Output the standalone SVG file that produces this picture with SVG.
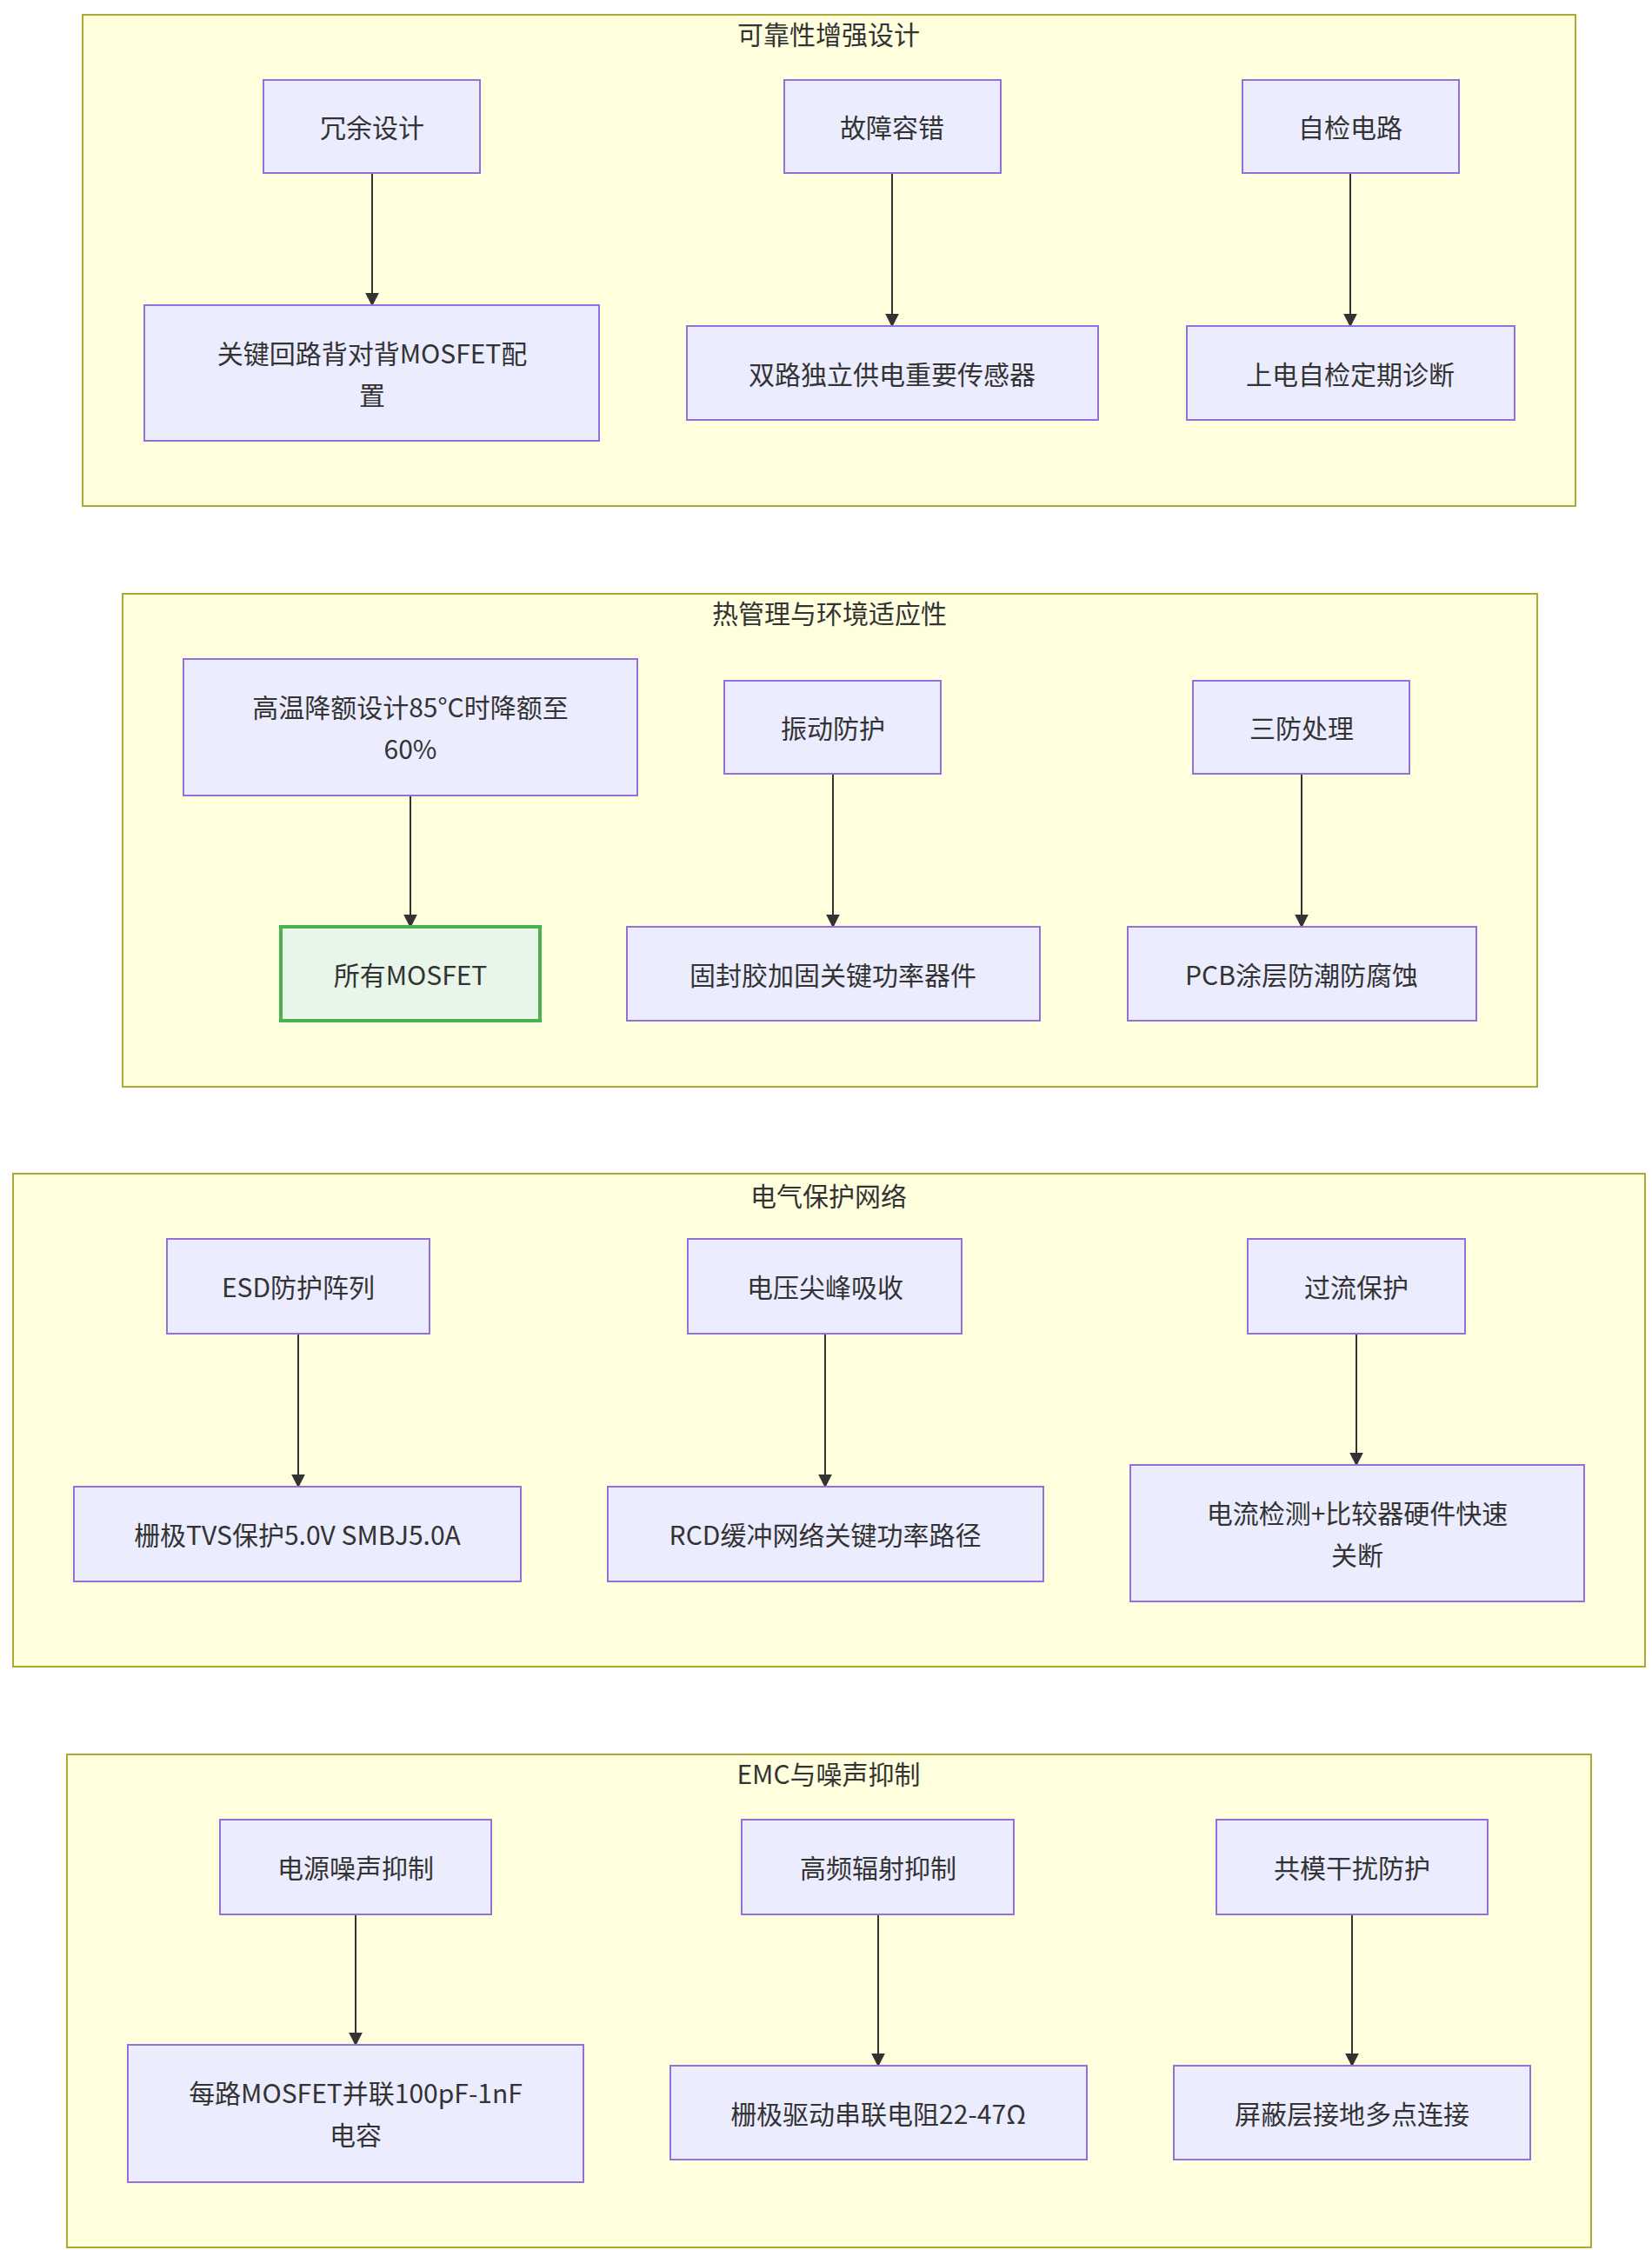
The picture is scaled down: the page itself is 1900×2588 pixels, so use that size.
<svg xmlns="http://www.w3.org/2000/svg" width="1900" height="2588" viewBox="0 0 1900 2588">
<style>
.c{fill:#ffffde;stroke:#aaaa33;stroke-width:2}
.n{fill:#ececff;stroke:#9370db;stroke-width:2}
.g{fill:#e8f5e9;stroke:#4caf50;stroke-width:4}
text{font-family:"Noto Sans CJK SC","Noto Sans",sans-serif;font-size:30px;fill:#333;text-anchor:middle;dominant-baseline:central}
.e{stroke:#333;stroke-width:2;fill:none;marker-end:url(#a)}
</style>
<defs><marker id="a" viewBox="0 0 10 10" refX="9" refY="5" markerWidth="8" markerHeight="8" orient="auto"><path d="M0,0L10,5L0,10z" fill="#333"/></marker></defs>
<rect width="1900" height="2588" fill="#fff"/>
<g id="c1"><rect class="c" x="95" y="17" width="1717" height="565"/><text x="953" y="38">可靠性增强设计</text></g>
<g id="c2"><rect class="c" x="141" y="683" width="1627" height="567"/><text x="954" y="704">热管理与环境适应性</text></g>
<g id="c3"><rect class="c" x="15" y="1350" width="1877" height="567"/><text x="953" y="1374">电气保护网络</text></g>
<g id="c4"><rect class="c" x="77" y="2018" width="1753" height="567"/><text x="953" y="2039">EMC与噪声抑制</text></g>
<g id="edges">
<path class="e" d="M428,199V351"/><path class="e" d="M1026,199V375"/><path class="e" d="M1553,199V375"/>
<path class="e" d="M472,915V1066"/><path class="e" d="M958,890V1066"/><path class="e" d="M1497,890V1066"/>
<path class="e" d="M343,1534V1710"/><path class="e" d="M949,1534V1710"/><path class="e" d="M1560,1534V1685"/>
<path class="e" d="M409,2202V2352"/><path class="e" d="M1010,2202V2376"/><path class="e" d="M1555,2202V2376"/>
</g>
<g id="n1"><rect class="n" x="303" y="92" width="249" height="107"/><text x="428" y="145">冗余设计</text></g>
<g id="n2"><rect class="n" x="902" y="92" width="249" height="107"/><text x="1026" y="145">故障容错</text></g>
<g id="n3"><rect class="n" x="1429" y="92" width="249" height="107"/><text x="1553" y="145">自检电路</text></g>
<g id="n4"><rect class="n" x="166" y="351" width="523" height="156"/><text x="428" y="405">关键回路背对背MOSFET配</text><text x="428" y="453">置</text></g>
<g id="n5"><rect class="n" x="790" y="375" width="473" height="108"/><text x="1026" y="429">双路独立供电重要传感器</text></g>
<g id="n6"><rect class="n" x="1365" y="375" width="377" height="108"/><text x="1553" y="429">上电自检定期诊断</text></g>
<g id="n7"><rect class="n" x="211" y="758" width="522" height="157"/><text x="472" y="812">高温降额设计85°C时降额至</text><text x="472" y="860">60%</text></g>
<g id="n8"><rect class="n" x="833" y="783" width="249" height="107"/><text x="958" y="836">振动防护</text></g>
<g id="n9"><rect class="n" x="1372" y="783" width="249" height="107"/><text x="1497" y="836">三防处理</text></g>
<g id="n10"><rect class="g" x="323" y="1066" width="298" height="108"/><text x="472" y="1120">所有MOSFET</text></g>
<g id="n11"><rect class="n" x="721" y="1066" width="475" height="108"/><text x="958" y="1120">固封胶加固关键功率器件</text></g>
<g id="n12"><rect class="n" x="1297" y="1066" width="401" height="108"/><text x="1497" y="1120">PCB涂层防潮防腐蚀</text></g>
<g id="n13"><rect class="n" x="192" y="1425" width="302" height="109"/><text x="343" y="1479">ESD防护阵列</text></g>
<g id="n14"><rect class="n" x="791" y="1425" width="315" height="109"/><text x="949" y="1479">电压尖峰吸收</text></g>
<g id="n15"><rect class="n" x="1435" y="1425" width="250" height="109"/><text x="1560" y="1479">过流保护</text></g>
<g id="n16"><rect class="n" x="85" y="1710" width="514" height="109"/><text x="342" y="1764">栅极TVS保护5.0V SMBJ5.0A</text></g>
<g id="n17"><rect class="n" x="699" y="1710" width="501" height="109"/><text x="949" y="1764">RCD缓冲网络关键功率路径</text></g>
<g id="n18"><rect class="n" x="1300" y="1685" width="522" height="157"/><text x="1561" y="1739">电流检测+比较器硬件快速</text><text x="1561" y="1787">关断</text></g>
<g id="n19"><rect class="n" x="253" y="2093" width="312" height="109"/><text x="409" y="2147">电源噪声抑制</text></g>
<g id="n20"><rect class="n" x="853" y="2093" width="313" height="109"/><text x="1010" y="2147">高频辐射抑制</text></g>
<g id="n21"><rect class="n" x="1399" y="2093" width="312" height="109"/><text x="1555" y="2147">共模干扰防护</text></g>
<g id="n22"><rect class="n" x="147" y="2352" width="524" height="158"/><text x="409" y="2406">每路MOSFET并联100pF-1nF</text><text x="409" y="2454">电容</text></g>
<g id="n23"><rect class="n" x="771" y="2376" width="479" height="108"/><text x="1010" y="2430">栅极驱动串联电阻22-47Ω</text></g>
<g id="n24"><rect class="n" x="1350" y="2376" width="410" height="108"/><text x="1555" y="2430">屏蔽层接地多点连接</text></g>
</svg>
